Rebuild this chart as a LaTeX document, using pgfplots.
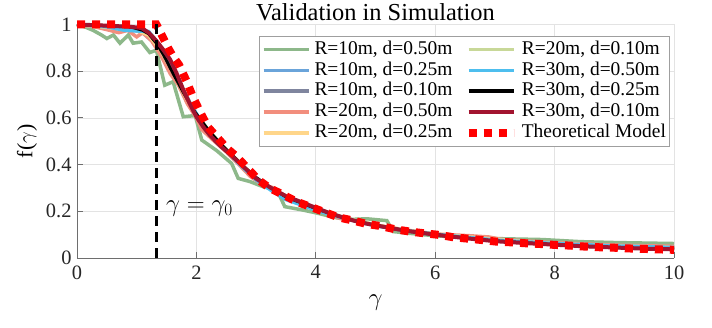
\documentclass[border=0pt]{standalone}
\usepackage{pgfplots}
\pgfplotsset{compat=1.18}
\usepackage{fontspec}
\setmainfont{Liberation Serif}
\definecolor{cGreen}{RGB}{141,184,138}
\definecolor{cBlue}{RGB}{106,164,218}
\definecolor{cSlate}{RGB}{127,133,158}
\definecolor{cSalmon}{RGB}{242,142,125}
\definecolor{cPale}{RGB}{255,214,138}
\definecolor{cOlive}{RGB}{200,216,152}
\definecolor{cSky}{RGB}{77,190,238}
\definecolor{cDark}{RGB}{162,20,47}
\definecolor{cAxis}{RGB}{110,110,110}
\begin{document}
\begin{tikzpicture}
\path[use as bounding box] (0,0) rectangle (712bp,328bp);
\begin{axis}[
  at={(77bp,70bp)}, anchor=south west,
  width=597bp, height=233.5bp, scale only axis,
  xmin=0, xmax=10, ymin=0, ymax=1,
  xtick={0,2,...,10}, ytick={0,0.2,...,1},
  axis x line*=bottom, axis y line*=left,
  axis line style={cAxis, line width=0.9bp, -},
  tick align=inside, major tick length=6bp,
  tick style={cAxis, line width=0.8bp},
  grid=major, major grid style={gray!22, line width=0.7bp},
  clip=false,
  /pgf/number format/assume math mode=true,
  tick label style={font=\fontsize{20.5}{24}\selectfont, color=black!85},
  xticklabel style={yshift=-4bp},
  yticklabel style={xshift=-2bp},
  legend columns=2,
  legend image code/.code={\draw[#1] (0bp,0bp) -- (45bp,0bp);},
  legend style={at={(0.9933,0.9507)}, anchor=north east, draw=gray!75, line width=0.8bp,
    fill=white, font=\fontsize{19.5}{22}\selectfont, column sep=3bp, row sep=0pt,
    inner sep=2.5bp,
    nodes={inner sep=1.2bp, text height=14bp, text depth=4.5bp}},
  legend cell align=left,
]
% simulation curves (forget plot; legend built separately)
\addplot[forget plot, cGreen, line width=3.5bp] coordinates {
(0,1.0) (0.13,0.99) (0.27,0.975) (0.41,0.955) (0.5,0.94) (0.61,0.955) (0.72,0.92)
(0.86,0.955) (0.94,0.92) (1.08,0.925) (1.22,0.88) (1.33,0.89) (1.47,0.74) (1.61,0.755)
(1.78,0.605) (1.98,0.61) (2.09,0.505) (2.34,0.46) (2.59,0.405) (2.70,0.341) (2.9,0.327)
(3.12,0.305) (3.35,0.291) (3.48,0.22) (3.79,0.205) (4.01,0.193) (4.35,0.172) (4.57,0.165)
(4.85,0.168) (5.19,0.160) (5.3,0.113) (5.6,0.105) (6.0,0.095) (6.5,0.088) (6.9,0.086)
(7.03,0.083) (7.8,0.079) (8.43,0.07) (9.04,0.066) (10,0.062)};
\addplot[forget plot, cBlue, line width=3.5bp] coordinates {
(0,1.0) (0.5,0.99) (0.9,0.98) (1.1,0.965) (1.3,0.92) (1.5,0.84) (1.7,0.75) (1.9,0.65)
(2.1,0.57) (2.3,0.51) (2.5,0.46) (2.75,0.40) (3.0,0.34) (3.25,0.295) (3.5,0.255)
(3.75,0.232) (4.0,0.21) (4.5,0.17) (5.0,0.14) (5.5,0.117) (6,0.10) (7,0.076) (8,0.06)
(9,0.05) (10,0.042)};
\addplot[forget plot, cSlate, line width=3.5bp] coordinates {
(0,1.0) (0.5,0.993) (0.9,0.985) (1.1,0.97) (1.3,0.925) (1.5,0.845) (1.7,0.755) (1.9,0.655)
(2.1,0.575) (2.3,0.515) (2.5,0.46) (2.75,0.395) (3,0.34) (3.25,0.297) (3.5,0.26)
(3.75,0.235) (4,0.21) (4.5,0.17) (5,0.14) (5.5,0.117) (6,0.1) (7,0.074) (8,0.058)
(9,0.047) (10,0.04)};
\addplot[forget plot, cSalmon, line width=3.5bp] coordinates {
(0,1.0) (0.3,0.99) (0.55,0.975) (0.7,0.965) (0.85,0.975) (1.0,0.947) (1.1,0.965)
(1.25,0.93) (1.4,0.87) (1.56,0.79) (1.7,0.74) (1.85,0.66) (2.0,0.6) (2.09,0.55) (2.3,0.5)
(2.5,0.455) (2.75,0.39) (2.9,0.35) (3.1,0.315) (3.3,0.30) (3.5,0.255) (3.75,0.235)
(4.0,0.208) (4.2,0.19) (4.4,0.17) (4.75,0.155) (5.0,0.14) (5.5,0.12) (6.0,0.103)
(6.6,0.095) (6.9,0.09) (7.1,0.08) (8,0.065) (9,0.055) (10,0.05)};
\addplot[forget plot, cPale, line width=3.5bp] coordinates {
(0,1.0) (0.6,0.985) (1.0,0.975) (1.2,0.955) (1.4,0.89) (1.6,0.8) (1.8,0.7) (2.0,0.61)
(2.2,0.545) (2.4,0.49) (2.6,0.44) (2.8,0.39) (3.0,0.34) (3.3,0.29) (3.6,0.252) (4,0.21)
(4.5,0.17) (5,0.142) (5.5,0.12) (6,0.103) (6.8,0.085) (7.5,0.07) (8.5,0.056) (10,0.045)};
\addplot[forget plot, cOlive, line width=3.5bp] coordinates {
(0,1.0) (0.5,0.995) (0.9,0.99) (1.1,0.98) (1.25,0.955) (1.4,0.905) (1.6,0.82) (1.8,0.71)
(2.0,0.61) (2.2,0.55) (2.4,0.49) (2.6,0.44) (2.8,0.39) (3.0,0.34) (3.25,0.298) (3.5,0.263)
(3.75,0.238) (4,0.213) (4.5,0.171) (5,0.141) (5.5,0.118) (6,0.101) (7,0.075) (8,0.059)
(9,0.048) (10,0.042)};
\addplot[forget plot, cSky, line width=3.5bp] coordinates {
(0,1.0) (0.5,0.99) (0.8,0.975) (1.2,0.97) (1.35,0.92) (1.5,0.85) (1.7,0.76) (1.9,0.66)
(2.1,0.575) (2.3,0.515) (2.5,0.46) (2.75,0.395) (3.0,0.335) (3.25,0.29) (3.5,0.25)
(3.75,0.228) (4.0,0.205) (4.5,0.168) (5.0,0.138) (5.5,0.118) (6,0.102) (7,0.077)
(8,0.062) (9,0.052) (10,0.045)};
\addplot[forget plot, black, line width=3bp] coordinates {
(0,1.0) (0.5,0.995) (0.9,0.99) (1.1,0.975) (1.2,0.96) (1.33,0.92) (1.45,0.87) (1.61,0.79)
(1.78,0.71) (1.95,0.634) (2.2,0.548) (2.4,0.49) (2.6,0.44) (2.8,0.39) (3.0,0.345)
(3.25,0.30) (3.5,0.262) (3.75,0.237) (4.0,0.212) (4.25,0.19) (4.5,0.17) (4.75,0.153)
(5.0,0.14) (5.5,0.117) (6,0.10) (6.5,0.086) (7,0.073) (7.5,0.065) (8,0.057) (8.5,0.05)
(9,0.045) (9.5,0.04) (10,0.037)};
\addplot[forget plot, cDark, line width=4bp] coordinates {
(0,1.0) (0.5,0.995) (0.9,0.99) (1.08,0.985) (1.2,0.965) (1.33,0.93) (1.45,0.89)
(1.56,0.85) (1.67,0.79) (1.78,0.72) (1.9,0.655) (2.0,0.605) (2.12,0.56) (2.23,0.525)
(2.4,0.48) (2.56,0.445) (2.75,0.40) (3.0,0.34) (3.25,0.30) (3.5,0.265) (3.75,0.24)
(4.0,0.215) (4.25,0.19) (4.5,0.17) (4.75,0.152) (5.0,0.14) (5.5,0.117) (6.0,0.10)
(6.5,0.085) (7.0,0.072) (7.5,0.064) (8.0,0.057) (8.5,0.05) (9.0,0.045) (9.5,0.04)
(10,0.037)};
% theoretical model
\addplot[forget plot, red, line width=8bp, dash pattern=on 8bp off 7bp] coordinates {
(0,1) (1.33,1) (1.42,0.955) (1.53,0.898) (1.61,0.862) (1.71,0.827) (1.84,0.755)
(1.94,0.691) (2.06,0.627) (2.19,0.562) (2.34,0.519) (2.51,0.470) (2.675,0.434)
(3.04,0.334) (3.23,0.299) (3.46,0.270) (3.68,0.241) (3.90,0.220) (4.13,0.198)
(4.38,0.174) (4.63,0.160) (4.85,0.146) (5.08,0.137) (5.33,0.123) (5.58,0.113)
(5.81,0.106) (6.06,0.099) (6.30,0.089) (6.54,0.083) (6.78,0.077) (7.03,0.070)
(7.28,0.067) (7.52,0.063) (7.76,0.060) (8.01,0.056) (8.26,0.053) (8.50,0.049)
(8.75,0.046) (9.0,0.044) (9.23,0.041) (9.49,0.039) (9.72,0.037) (10,0.035)};
% gamma_0 marker
\addplot[forget plot, black, line width=2.5bp, dash pattern=on 10bp off 6bp] coordinates {(1.33,0) (1.33,1)};
% legend (row-wise order to mimic column-wise MATLAB legend)
\addlegendimage{cGreen, line width=3.5bp}\addlegendentry{R=10m, d=0.50m\hspace*{8bp}}
\addlegendimage{cOlive, line width=3.5bp}\addlegendentry{R=20m, d=0.10m}
\addlegendimage{cBlue, line width=3.5bp}\addlegendentry{R=10m, d=0.25m\hspace*{8bp}}
\addlegendimage{cSky, line width=3.5bp}\addlegendentry{R=30m, d=0.50m}
\addlegendimage{cSlate, line width=3.5bp}\addlegendentry{R=10m, d=0.10m\hspace*{8bp}}
\addlegendimage{black, line width=3.5bp}\addlegendentry{R=30m, d=0.25m}
\addlegendimage{cSalmon, line width=3.5bp}\addlegendentry{R=20m, d=0.50m\hspace*{8bp}}
\addlegendimage{cDark, line width=3.5bp}\addlegendentry{R=30m, d=0.10m}
\addlegendimage{cPale, line width=3.5bp}\addlegendentry{R=20m, d=0.25m\hspace*{8bp}}
\addlegendimage{red, line width=8bp, dash pattern=on 8bp off 7bp}\addlegendentry{Theoretical Model}
% title, labels and annotation
\node[anchor=base, font=\fontsize{24.5}{28}\selectfont, inner sep=0pt] at (axis description cs:0.5,1.017) {Validation in Simulation};
\node[rotate=90, font=\fontsize{22}{26}\selectfont] at (axis description cs:-0.0838,0.5) {f($\gamma$)};
\node[font=\fontsize{24}{28}\selectfont] at (axis description cs:0.5,-0.193) {$\gamma$};
\node[anchor=base west, font=\fontsize{24}{28}\selectfont, inner sep=0pt] at (axis cs:1.49,0.198) {$\gamma=\gamma_0$};
\end{axis}
\end{tikzpicture}
\end{document}
